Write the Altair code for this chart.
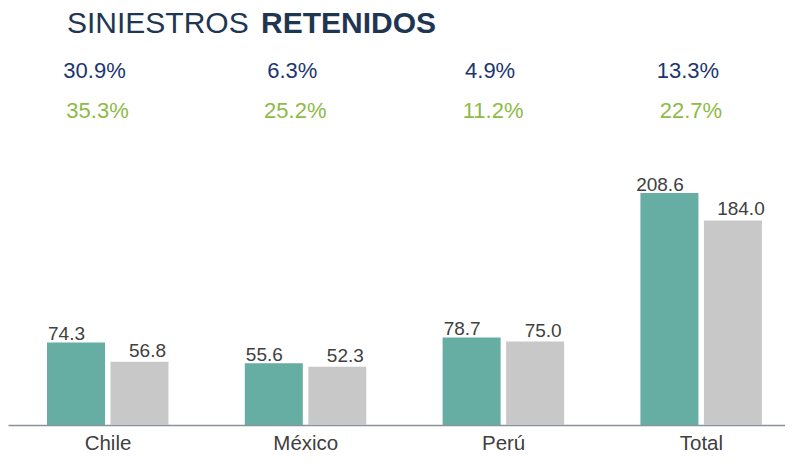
import altair as alt
import pandas as pd

categories = ["Chile", "México", "Perú", "Total"]
actual = [74.3, 55.6, 78.7, 208.6]
anterior = [56.8, 52.3, 75.0, 184.0]
var_blue = ["30.9%", "6.3%", "4.9%", "13.3%"]
var_green = ["35.3%", "25.2%", "11.2%", "22.7%"]
title_parts = ["SINIESTROS", "RETENIDOS"]

FONT = "Liberation Sans"
TEAL = "#66ADA3"
GRAY = "#C8C8C8"
NAVY = "#1C3570"
GREEN = "#8DBB47"
TITLE_C = "#1F3653"
LABEL_C = "#404040"

df = pd.DataFrame({
    "idx": list(range(len(categories))),
    "cat": categories,
    "actual": actual,
    "anterior": anterior,
    "blue": var_blue,
    "green": var_green,
})
df["lab_a"] = [f"{v:.1f}" for v in actual]
df["lab_b"] = [f"{v:.1f}" for v in anterior]

W, H = 777, 417
cat_js = "[" + ",".join(f"'{c}'" for c in categories) + "]"
xscale = alt.Scale(domain=[-0.503, 3.425], nice=False, zero=False, padding=0)
yscale = alt.Scale(domain=[0, 375], padding=0)

x_axis = alt.X("idx:Q", scale=xscale,
               axis=alt.Axis(title=None, ticks=False, grid=False, values=list(range(len(categories))),
                             labelExpr=f"{cat_js}[datum.value]", labelFont=FONT,
                             labelFontSize=20.5, labelColor=LABEL_C, labelPadding=24,
                             labelBaseline="alphabetic", labelFlush=False, labelOverlap=False,
                             domainColor="#8A909C", domainWidth=1.5))
x_plain = alt.X("idx:Q", scale=xscale)

base = alt.Chart(df)
bar_a = base.mark_bar(width=58, xOffset=-31.5, color=TEAL).encode(
    x=x_axis, y=alt.Y("actual:Q", scale=yscale, axis=None))
bar_b = base.mark_bar(width=58, xOffset=32, color=GRAY).encode(
    x=x_plain, y=alt.Y("anterior:Q", scale=yscale))

lab_a = base.mark_text(font=FONT, fontSize=19, color=LABEL_C, baseline="alphabetic",
                       dy=-2, dx=-41).encode(
    x=x_plain, y=alt.Y("actual:Q", scale=yscale), text="lab_a:N")
lab_b = base.mark_text(font=FONT, fontSize=19, color=LABEL_C, baseline="alphabetic",
                       dy=-5, dx=40).encode(
    x=x_plain, y=alt.Y("anterior:Q", scale=yscale), text="lab_b:N")

p_blue = base.mark_text(font=FONT, fontSize=22, color=NAVY, baseline="middle", dx=-13).encode(
    x=x_plain, y=alt.value(63), text="blue:N")
p_green = base.mark_text(font=FONT, fontSize=22, color=GREEN, baseline="middle", dx=-10).encode(
    x=x_plain, y=alt.value(103), text="green:N")

t1 = alt.Chart(pd.DataFrame({"t": [title_parts[0]]})).mark_text(
    font=FONT, fontSize=30, color=TITLE_C, align="left", baseline="alphabetic"
).encode(x=alt.value(59), y=alt.value(25), text="t:N")
t2 = alt.Chart(pd.DataFrame({"t": [title_parts[1]]})).mark_text(
    font=FONT, fontSize=30, fontWeight="bold", color=TITLE_C, align="left", baseline="alphabetic"
).encode(x=alt.value(253), y=alt.value(25), text="t:N")

chart = alt.layer(bar_a, bar_b, lab_a, lab_b, p_blue, p_green, t1, t2).properties(
    width=W, height=H,
    autosize=alt.AutoSizeParams(type="none"),
    padding={"left": 0, "top": 0, "right": 0, "bottom": 30},
).configure_view(stroke=None)

chart.save("out.html", embed_options={"renderer": "svg", "actions": False})
